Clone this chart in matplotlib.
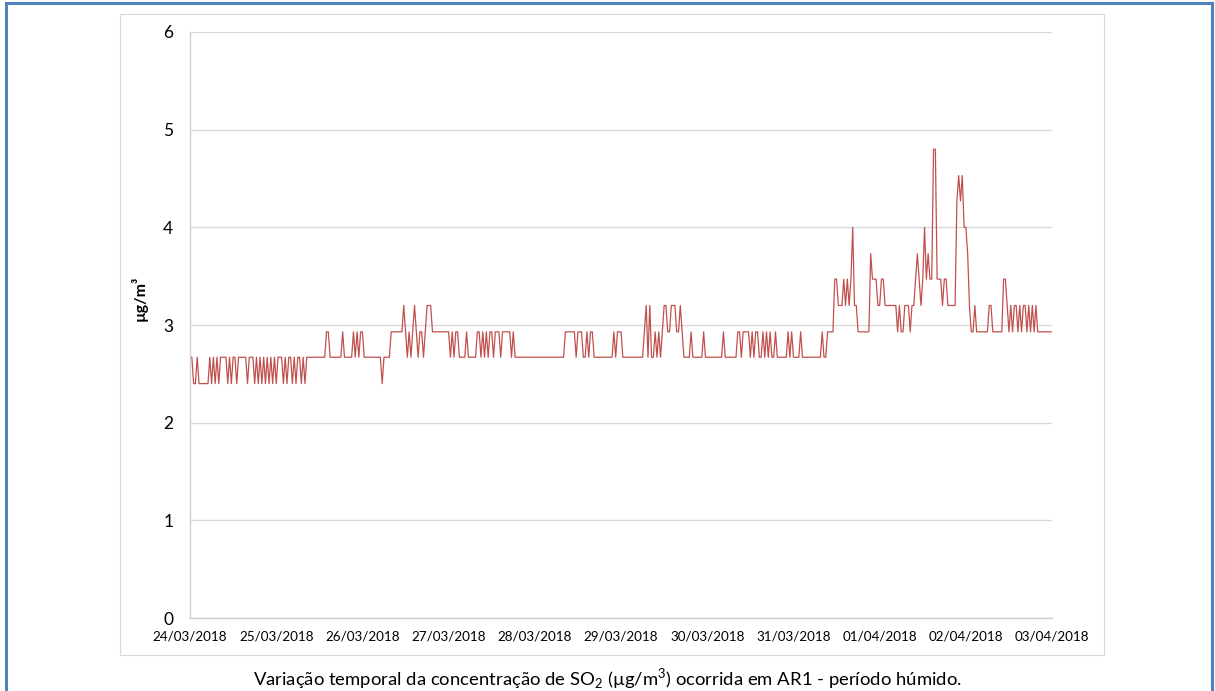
import matplotlib.pyplot as plt
import matplotlib.dates as mdates
from matplotlib.patches import Rectangle
import numpy as np
import pandas as pd

plt.rcParams['font.family'] = ['Lato', 'DejaVu Sans']
plt.rcParams['mathtext.fontset'] = 'custom'
plt.rcParams['mathtext.rm'] = 'Lato'

# SO2 (ug/m3), half-hourly readings, one list per day
mar24 = [2.67, 2.67, 2.40, 2.40, 2.67, 2.40, 2.40, 2.40,
         2.40, 2.40, 2.40, 2.67, 2.40, 2.67, 2.40, 2.67,
         2.40, 2.67, 2.67, 2.67, 2.67, 2.40, 2.67, 2.40,
         2.67, 2.67, 2.40, 2.67, 2.67, 2.67, 2.67, 2.67,
         2.40, 2.67, 2.67, 2.67, 2.40, 2.67, 2.40, 2.67,
         2.40, 2.67, 2.40, 2.67, 2.40, 2.67, 2.40, 2.67]
mar25 = [2.40, 2.67, 2.67, 2.67, 2.40, 2.67, 2.40, 2.67,
         2.67, 2.40, 2.67, 2.40, 2.67, 2.67, 2.40, 2.67,
         2.40, 2.67, 2.67, 2.67, 2.67, 2.67, 2.67, 2.67,
         2.67, 2.67, 2.67, 2.67, 2.93, 2.93, 2.67, 2.67,
         2.67, 2.67, 2.67, 2.67, 2.67, 2.93, 2.67, 2.67,
         2.67, 2.67, 2.67, 2.93, 2.67, 2.93, 2.67, 2.93]
mar26 = [2.93, 2.67, 2.67, 2.67, 2.67, 2.67, 2.67, 2.67,
         2.67, 2.67, 2.67, 2.40, 2.67, 2.67, 2.67, 2.67,
         2.93, 2.93, 2.93, 2.93, 2.93, 2.93, 2.93, 3.20,
         2.93, 2.67, 2.93, 2.67, 2.93, 3.20, 2.93, 2.67,
         2.93, 2.93, 2.67, 2.93, 3.20, 3.20, 3.20, 2.93,
         2.93, 2.93, 2.93, 2.93, 2.93, 2.93, 2.93, 2.93]
mar27 = [2.93, 2.67, 2.93, 2.67, 2.93, 2.93, 2.67, 2.67,
         2.67, 2.67, 2.93, 2.67, 2.67, 2.67, 2.67, 2.67,
         2.93, 2.93, 2.67, 2.93, 2.67, 2.93, 2.67, 2.93,
         2.93, 2.67, 2.93, 2.93, 2.93, 2.67, 2.93, 2.93,
         2.93, 2.93, 2.93, 2.67, 2.93, 2.67, 2.67, 2.67,
         2.67, 2.67, 2.67, 2.67, 2.67, 2.67, 2.67, 2.67]
mar28 = [2.67, 2.67, 2.67, 2.67, 2.67, 2.67, 2.67, 2.67,
         2.67, 2.67, 2.67, 2.67, 2.67, 2.67, 2.67, 2.67,
         2.67, 2.93, 2.93, 2.93, 2.93, 2.93, 2.93, 2.67,
         2.93, 2.93, 2.93, 2.67, 2.67, 2.93, 2.67, 2.93,
         2.93, 2.67, 2.67, 2.67, 2.67, 2.67, 2.67, 2.67,
         2.67, 2.67, 2.67, 2.67, 2.93, 2.67, 2.93, 2.93]
mar29 = [2.93, 2.67, 2.67, 2.67, 2.67, 2.67, 2.67, 2.67,
         2.67, 2.67, 2.67, 2.67, 2.67, 2.93, 3.20, 2.67,
         3.20, 2.67, 2.67, 2.93, 2.67, 2.93, 2.67, 2.93,
         3.20, 3.20, 2.93, 2.93, 3.20, 3.20, 3.20, 2.93,
         2.93, 3.20, 2.93, 2.67, 2.67, 2.67, 2.67, 2.93,
         2.67, 2.67, 2.67, 2.67, 2.67, 2.67, 2.93, 2.67]
mar30 = [2.67, 2.67, 2.67, 2.67, 2.67, 2.67, 2.67, 2.67,
         2.67, 2.93, 2.67, 2.67, 2.67, 2.67, 2.67, 2.67,
         2.67, 2.93, 2.93, 2.67, 2.93, 2.93, 2.93, 2.93,
         2.67, 2.93, 2.67, 2.93, 2.93, 2.67, 2.67, 2.93,
         2.67, 2.93, 2.67, 2.93, 2.67, 2.67, 2.93, 2.67,
         2.67, 2.67, 2.67, 2.67, 2.67, 2.93, 2.67, 2.93]
mar31 = [2.67, 2.67, 2.67, 2.67, 2.93, 2.67, 2.67, 2.67,
         2.67, 2.67, 2.67, 2.67, 2.67, 2.67, 2.67, 2.67,
         2.93, 2.67, 2.67, 2.93, 2.93, 2.93, 2.93, 3.47,
         3.47, 3.20, 3.20, 3.20, 3.47, 3.20, 3.47, 3.20,
         3.47, 4.00, 3.20, 3.20, 2.93, 2.93, 2.93, 2.93,
         2.93, 2.93, 2.93, 3.73, 3.47, 3.47, 3.47, 3.20]
apr01 = [3.20, 3.47, 3.47, 3.20, 3.20, 3.20, 3.20, 3.20,
         3.20, 3.20, 2.93, 3.20, 2.93, 2.93, 3.20, 3.20,
         3.20, 2.93, 3.20, 3.20, 3.47, 3.73, 3.47, 3.20,
         3.47, 4.00, 3.47, 3.73, 3.47, 3.47, 4.80, 4.80,
         3.47, 3.47, 3.47, 3.20, 3.47, 3.47, 3.20, 3.20,
         3.20, 3.20, 3.20, 4.27, 4.53, 4.27, 4.53, 4.00]
apr02 = [4.00, 3.73, 3.20, 2.93, 2.93, 3.20, 2.93, 2.93,
         2.93, 2.93, 2.93, 2.93, 2.93, 3.20, 3.20, 2.93,
         2.93, 2.93, 2.93, 2.93, 2.93, 3.47, 3.47, 3.20,
         2.93, 3.20, 2.93, 3.20, 3.20, 2.93, 3.20, 2.93,
         3.20, 3.20, 2.93, 3.20, 2.93, 3.20, 2.93, 3.20,
         2.93, 2.93, 2.93, 2.93, 2.93, 2.93, 2.93, 2.93]
apr03 = [2.93]

so2 = np.concatenate([mar24, mar25, mar26, mar27, mar28, mar29,
                      mar30, mar31, apr01, apr02, apr03])
times = pd.date_range('2018-03-24', periods=len(so2), freq='30min')

fig = plt.figure(figsize=(12.15, 6.91), dpi=100)

# outer blue frame and the light chart-area box
fig.add_artist(Rectangle((0.0053, -0.02), 0.9925, 1.0155, transform=fig.transFigure,
                         fill=False, edgecolor='#4F81BD', lw=2.2))
fig.add_artist(Rectangle((0.0988, 0.0521), 0.8098, 0.9276, transform=fig.transFigure,
                         fill=False, edgecolor='#D9D9D9', lw=0.8))

ax = fig.add_axes([0.1564, 0.1056, 0.7095, 0.8481])
ax.plot(times, so2, color='#C0504D', lw=0.9)

ax.set_xlim(pd.Timestamp('2018-03-24'), pd.Timestamp('2018-04-03'))
ax.set_ylim(0, 6)
ax.set_yticks(range(0, 7))
ax.xaxis.set_major_locator(mdates.DayLocator())
ax.xaxis.set_major_formatter(mdates.DateFormatter('%d/%m/%Y'))

ax.grid(axis='y', color='#D9D9D9', lw=1)
ax.set_axisbelow(True)
for s in ['top', 'right']:
    ax.spines[s].set_visible(False)
for s in ['left', 'bottom']:
    ax.spines[s].set_color('#D0D0D0')
    ax.spines[s].set_linewidth(1)

ax.tick_params(axis='y', length=0, pad=12, labelsize=12.5)
ax.tick_params(axis='x', length=0, pad=9, labelsize=9.7)

ax.set_ylabel('µg/m³', fontweight='bold', fontsize=11.5)
ax.yaxis.set_label_coords(-0.049, 0.546)

fig.text(0.5, 0.0175, r'Variação temporal da concentração de SO$_2$ (µg/m$^3$) ocorrida em AR1 - período húmido.',
         ha='center', va='center', fontsize=13.3)

fig.savefig('out.png', dpi=100)
